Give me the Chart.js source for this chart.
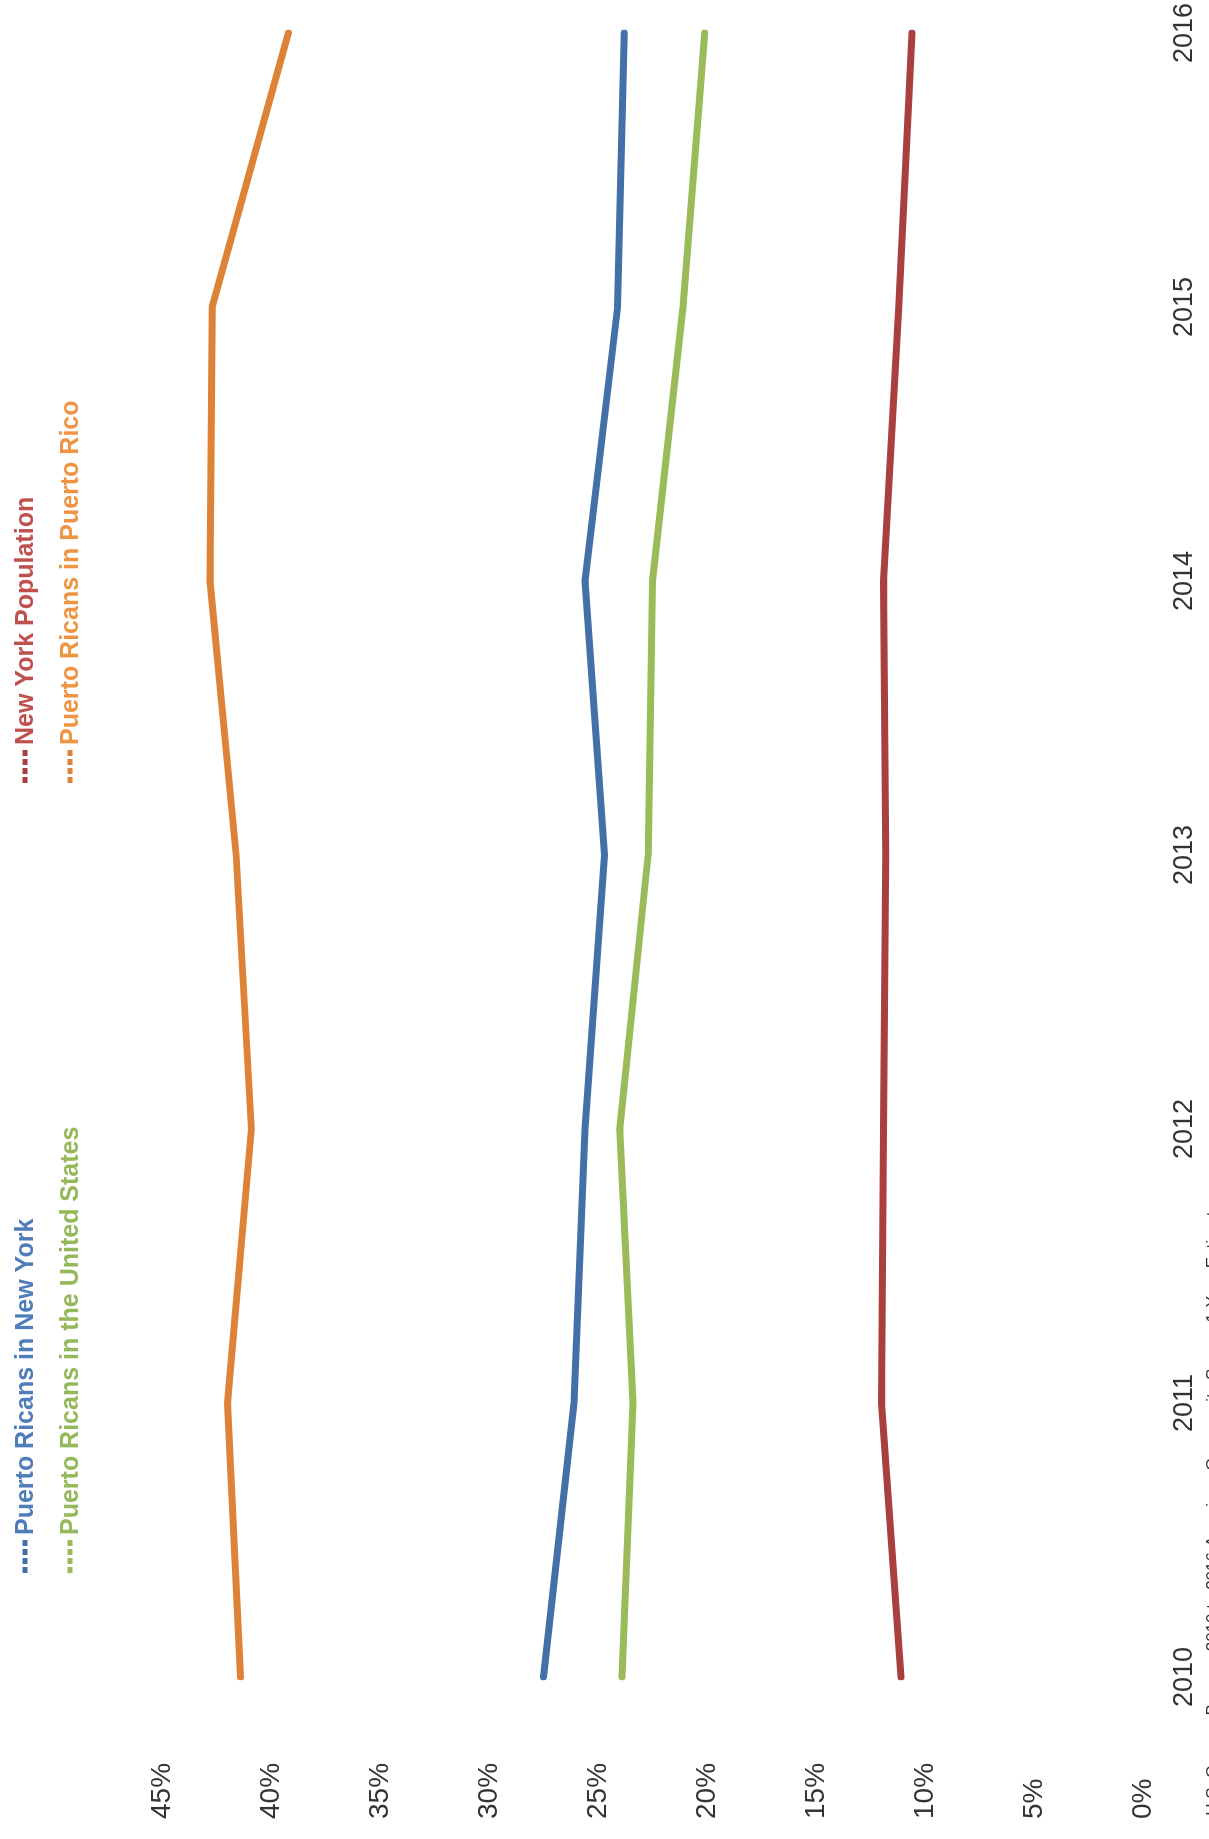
<!DOCTYPE html>
<html>
<head>
<meta charset="utf-8">
<script src="https://cdn.jsdelivr.net/npm/chart.js@4.4.1/dist/chart.umd.min.js"></script>
<style>
    html, body { margin: 0; padding: 0; background: #fff; overflow: hidden; }
    /* chart is drawn landscape, then turned a quarter left like the scan */
    #wrap { position: absolute; left: 0; top: 1839px; width: 1839px; height: 1209px;
            transform-origin: 0 0; transform: rotate(-90deg); }
</style>
</head>
<body>
<div id="wrap"><canvas id="myChart" width="1839" height="1209"></canvas></div>
<script>
var years = ["2010", "2011", "2012", "2013", "2014", "2015", "2016"];

var prNewYork      = [27.5, 26.1, 25.6, 24.7, 25.6, 24.1, 23.8];
var nyPopulation   = [11.1, 12.0, 11.9, 11.8, 11.9, 11.2, 10.6];
var prUnitedStates = [23.9, 23.4, 24.0, 22.7, 22.5, 21.1, 20.1];
var prPuertoRico   = [41.4, 42.0, 40.9, 41.6, 42.8, 42.7, 39.2];

var seriesNames = [
    "Puerto Ricans in New York",
    "New York Population",
    "Puerto Ricans in the United States",
    "Puerto Ricans in Puerto Rico"
];
var lineColors   = ["#4470A8", "#A9403F", "#9ABB59", "#DD8236"];
var legendColors = ["#4F7DB9", "#BE504D", "#94B85A", "#EE9443"];

var sourceText = "Source: U.S. Census Bureau, 2010 to 2016 American Community Survey 1-Year Estimates";

// is the narrow face installed? fall back to regular Liberation Sans if not
var hasNarrow = (function () {
    var c = document.createElement("canvas").getContext("2d");
    c.font = '40px "Liberation Sans Narrow", monospace';
    var a = c.measureText("abcdefghij").width;
    c.font = "40px monospace";
    return a !== c.measureText("abcdefghij").width;
})();
var narrowFamily = hasNarrow ? '"Liberation Sans Narrow", "Liberation Sans", Arial' : '"Liberation Sans", Arial';

var legendPlugin = {
    id: "gridLegend",
    afterDraw: function (chart) {
        var ctx = chart.ctx;
        var colX = [266, 1056];
        var rowY = [25, 70];
        ctx.save();
        ctx.font = hasNarrow ? "bold 32px " + narrowFamily : "bold 25px " + narrowFamily;
        ctx.textBaseline = "middle";
        ctx.textAlign = "left";
        chart.data.datasets.forEach(function (ds, i) {
            var x = colX[i % 2], y = rowY[Math.floor(i / 2)];
            ctx.strokeStyle = ds.borderColor;
            ctx.lineWidth = 5;
            ctx.setLineDash([6, 3]);
            ctx.beginPath();
            ctx.moveTo(x, y);
            ctx.lineTo(x + 35, y);
            ctx.stroke();
            ctx.fillStyle = legendColors[i];
            ctx.fillText(ds.label, x + 38, y + 1);
        });
        // source note, clipped at the canvas edge as in the scan
        ctx.font = '17px "Liberation Sans", Arial';
        ctx.fillStyle = "#333";
        ctx.textBaseline = "top";
        ctx.fillText(sourceText, -40, 1205);
        ctx.restore();
    }
};

var series = [prNewYork, nyPopulation, prUnitedStates, prPuertoRico];
var datasets = series.map(function (vals, i) {
    return {
        label: seriesNames[i],
        data: vals,
        borderColor: lineColors[i],
        backgroundColor: lineColors[i],
        borderWidth: 7,
        borderCapStyle: "round",
        borderJoinStyle: "round",
        pointRadius: 0,
        tension: 0,
        fill: false
    };
});

var ctx = document.getElementById("myChart");
var myChart = new Chart(ctx, {
    type: "line",
    data: { labels: years, datasets: datasets },
    plugins: [legendPlugin],
    options: {
        responsive: false,
        animation: false,
        devicePixelRatio: 1,
        layout: { padding: { left: 20, top: 162, right: 33, bottom: 0 } },
        plugins: { legend: { display: false }, tooltip: { enabled: false } },
        scales: {
            x: {
                offset: false,
                grid: { display: false, drawTicks: false },
                border: { display: false },
                ticks: {
                    padding: 0,
                    color: "#333",
                    // tall line box pushes the year labels down without widening side padding
                    font: { family: '"Liberation Sans", Arial', size: 27, lineHeight: 3.1 }
                },
                afterFit: function (s) { s.height = 66; }
            },
            y: {
                min: 0,
                max: 45,
                grid: { display: false, drawTicks: false },
                border: { display: false },
                ticks: {
                    stepSize: 5,
                    crossAlign: "far",
                    color: "#333",
                    font: { family: narrowFamily, size: hasNarrow ? 35 : 28 },
                    callback: function (v) { return v + "%"; }
                },
                afterFit: function (s) { s.width = 142; }
            }
        }
    }
});
</script>
</body>
</html>
